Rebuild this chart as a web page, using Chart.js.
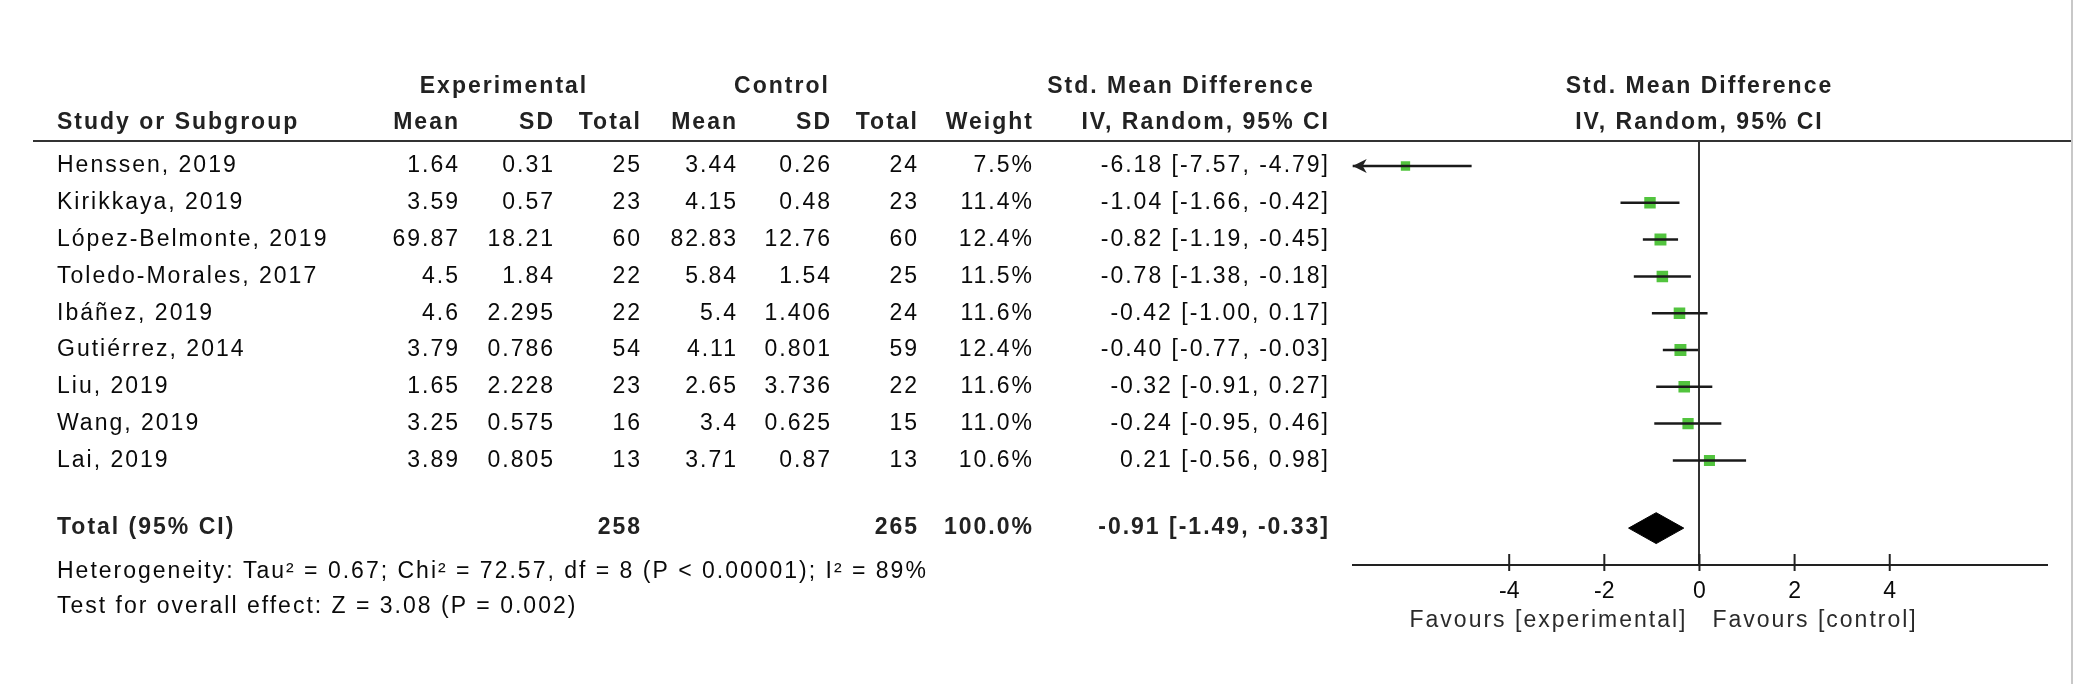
<!DOCTYPE html>
<html>
<head>
<meta charset="utf-8">
<script src="https://cdn.jsdelivr.net/npm/chart.js@4.4.1/dist/chart.umd.min.js"></script>
<style>
    html, body { margin: 0; padding: 0; background: #fff; }
    #wrap { width: 2074px; height: 684px; position: relative; }
</style>
</head>
<body>
<div id="wrap"><canvas id="forest"></canvas></div>
<script>
// study rows
const studies = ['Henssen, 2019', 'Kirikkaya, 2019', 'López-Belmonte, 2019', 'Toledo-Morales, 2017',
    'Ibáñez, 2019', 'Gutiérrez, 2014', 'Liu, 2019', 'Wang, 2019', 'Lai, 2019'];
const expMean = [1.64, 3.59, 69.87, 4.5, 4.6, 3.79, 1.65, 3.25, 3.89];
const expSD = [0.31, 0.57, 18.21, 1.84, 2.295, 0.786, 2.228, 0.575, 0.805];
const expN = [25, 23, 60, 22, 22, 54, 23, 16, 13];
const ctrlMean = [3.44, 4.15, 82.83, 5.84, 5.4, 4.11, 2.65, 3.4, 3.71];
const ctrlSD = [0.26, 0.48, 12.76, 1.54, 1.406, 0.801, 3.736, 0.625, 0.87];
const ctrlN = [24, 23, 60, 25, 24, 59, 22, 15, 13];
const weights = [7.5, 11.4, 12.4, 11.5, 11.6, 12.4, 11.6, 11.0, 10.6];
const smd = [-6.18, -1.04, -0.82, -0.78, -0.42, -0.40, -0.32, -0.24, 0.21];
const ciLow = [-7.57, -1.66, -1.19, -1.38, -1.00, -0.77, -0.91, -0.95, -0.56];
const ciHigh = [-4.79, -0.42, -0.45, -0.18, 0.17, -0.03, 0.27, 0.46, 0.98];

// pooled result
const totalExpN = 258;
const totalCtrlN = 265;
const totalWeight = 100.0;
const pooled = [-0.91, -1.49, -0.33]; // estimate, low, high
const heterogeneity = 'Heterogeneity: Tau² = 0.67; Chi² = 72.57, df = 8 (P < 0.00001); I² = 89%';
const overallTest = 'Test for overall effect: Z = 3.08 (P = 0.002)';

const xTicks = [-4, -2, 0, 2, 4];

const TOTAL_ROW = 9.84;   // pooled row sits a bit less than two rows below the last study
const DIAMOND_H = 0.42;   // half height of the diamond, in row units
const GREEN = '#52c43e';
const INK = '#0a0a0a';
const FONT = '"Liberation Sans", Arial, sans-serif';

const fmt2 = v => v.toFixed(2);
const ciText = (e, l, h) => `${fmt2(e)} [${fmt2(l)}, ${fmt2(h)}]`;

function txt(ctx, s, px, py, align, bold, color) {
    const ls = 2;
    ctx.font = (bold ? 'bold ' : '') + '23px ' + FONT;
    ctx.letterSpacing = ls + 'px';
    ctx.fillStyle = color || (bold ? '#222' : INK);
    ctx.textAlign = align;
    ctx.textBaseline = 'middle';
    ctx.fillText(s, align === 'right' ? px + ls : px, py);
}

const forestText = {
    id: 'forestText',
    beforeDraw(chart) {
        const ctx = chart.ctx;
        const area = chart.chartArea;
        ctx.save();
        ctx.fillStyle = '#fff';
        ctx.fillRect(0, 0, chart.width, chart.height);
        // header rule
        ctx.strokeStyle = '#333';
        ctx.lineWidth = 2;
        ctx.beginPath();
        ctx.moveTo(33, area.top);
        ctx.lineTo(2072, area.top);
        ctx.stroke();
        // right border
        ctx.strokeStyle = '#c8c8c8';
        ctx.beginPath();
        ctx.moveTo(2072, 0);
        ctx.lineTo(2072, chart.height);
        ctx.stroke();
        ctx.restore();
    },
    afterDraw(chart) {
        const ctx = chart.ctx;
        const xs = chart.scales.x;
        const ys = chart.scales.y;
        const area = chart.chartArea;
        ctx.save();

        // column headers
        txt(ctx, 'Experimental', 504, 87, 'center', true);
        txt(ctx, 'Control', 782, 87, 'center', true);
        txt(ctx, 'Std. Mean Difference', 1181, 87, 'center', true);
        txt(ctx, 'Std. Mean Difference', xs.getPixelForValue(0), 87, 'center', true);
        txt(ctx, 'Study or Subgroup', 57, 123, 'left', true);
        txt(ctx, 'Mean', 458, 123, 'right', true);
        txt(ctx, 'SD', 553, 123, 'right', true);
        txt(ctx, 'Total', 640, 123, 'right', true);
        txt(ctx, 'Mean', 736, 123, 'right', true);
        txt(ctx, 'SD', 830, 123, 'right', true);
        txt(ctx, 'Total', 917, 123, 'right', true);
        txt(ctx, 'Weight', 1032, 123, 'right', true);
        txt(ctx, 'IV, Random, 95% CI', 1328, 123, 'right', true);
        txt(ctx, 'IV, Random, 95% CI', xs.getPixelForValue(0), 123, 'center', true);

        // study rows
        studies.forEach((name, i) => {
            const py = ys.getPixelForValue(i);
            txt(ctx, name, 57, py, 'left');
            txt(ctx, String(expMean[i]), 458, py, 'right');
            txt(ctx, String(expSD[i]), 553, py, 'right');
            txt(ctx, String(expN[i]), 640, py, 'right');
            txt(ctx, String(ctrlMean[i]), 736, py, 'right');
            txt(ctx, String(ctrlSD[i]), 830, py, 'right');
            txt(ctx, String(ctrlN[i]), 917, py, 'right');
            txt(ctx, weights[i].toFixed(1) + '%', 1032, py, 'right');
            txt(ctx, ciText(smd[i], ciLow[i], ciHigh[i]), 1328, py, 'right');

            // arrow when the interval runs off the axis
            if (ciLow[i] < xs.min) {
                ctx.fillStyle = '#222';
                ctx.beginPath();
                ctx.moveTo(area.left, py);
                ctx.lineTo(area.left + 14, py - 7);
                ctx.lineTo(area.left + 10, py);
                ctx.lineTo(area.left + 14, py + 7);
                ctx.closePath();
                ctx.fill();
            }
        });

        // total row
        const ty = ys.getPixelForValue(TOTAL_ROW);
        txt(ctx, 'Total (95% CI)', 57, ty, 'left', true);
        txt(ctx, String(totalExpN), 640, ty, 'right', true);
        txt(ctx, String(totalCtrlN), 917, ty, 'right', true);
        txt(ctx, totalWeight.toFixed(1) + '%', 1032, ty, 'right', true);
        txt(ctx, ciText(pooled[0], pooled[1], pooled[2]), 1328, ty, 'right', true);
        txt(ctx, heterogeneity, 57, 572, 'left');
        txt(ctx, overallTest, 57, 607, 'left');

        // tick marks pointing up from the axis
        ctx.strokeStyle = '#222';
        ctx.lineWidth = 2;
        xs.ticks.forEach(t => {
            const px = xs.getPixelForValue(t.value);
            ctx.beginPath();
            ctx.moveTo(px, area.bottom - 11);
            ctx.lineTo(px, area.bottom + 6);
            ctx.stroke();
        });

        // favours labels
        const zx = xs.getPixelForValue(0);
        txt(ctx, 'Favours [experimental]', zx - 14, 621, 'right', false, '#2a2a2a');
        txt(ctx, 'Favours [control]', zx + 13, 621, 'left', false, '#2a2a2a');
        ctx.restore();
    }
};

const ciSets = studies.map((s, i) => ({
    type: 'line',
    data: [{ x: ciLow[i], y: i }, { x: ciHigh[i], y: i }],
    borderColor: '#1a1a1a',
    borderWidth: 2.5,
    pointRadius: 0,
    fill: false
}));

const squareSet = {
    type: 'scatter',
    data: studies.map((s, i) => ({ x: smd[i], y: i })),
    pointStyle: 'rect',
    pointRadius: ctx => 2.4 * Math.sqrt(weights[ctx.dataIndex]),
    backgroundColor: GREEN,
    borderColor: GREEN,
    borderWidth: 0
};

const diamondSet = {
    type: 'line',
    data: [
        { x: pooled[1], y: TOTAL_ROW },
        { x: pooled[0], y: TOTAL_ROW - DIAMOND_H },
        { x: pooled[2], y: TOTAL_ROW },
        { x: pooled[0], y: TOTAL_ROW + DIAMOND_H },
        { x: pooled[1], y: TOTAL_ROW }
    ],
    borderColor: '#000',
    borderWidth: 1,
    backgroundColor: '#000',
    pointRadius: 0,
    fill: 'shape',
    tension: 0
};

new Chart(document.getElementById('forest'), {
    type: 'scatter',
    data: { datasets: [...ciSets, squareSet, diamondSet] },
    options: {
        responsive: true,
        maintainAspectRatio: false,
        animation: false,
        layout: { padding: { left: 1352.7, right: 27.3, top: 141, bottom: 0 } },
        plugins: {
            legend: { display: false },
            tooltip: { enabled: false }
        },
        scales: {
            x: {
                type: 'linear',
                position: 'bottom',
                min: -7.29,
                max: 7.3,
                afterBuildTicks: s => { s.ticks = xTicks.map(v => ({ value: v })); },
                afterFit: s => { s.height = 119; },
                border: { display: true, color: '#222', width: 2 },
                grid: {
                    drawTicks: false,
                    lineWidth: 2,
                    color: c => (c.tick && c.tick.value === 0) ? '#333' : 'rgba(0,0,0,0)'
                },
                ticks: {
                    padding: 13,
                    color: INK,
                    font: { family: FONT, size: 23 }
                }
            },
            y: {
                type: 'linear',
                reverse: true,
                min: -0.679,
                max: 10.842,
                display: false
            }
        }
    },
    plugins: [forestText]
});
</script>
</body>
</html>
